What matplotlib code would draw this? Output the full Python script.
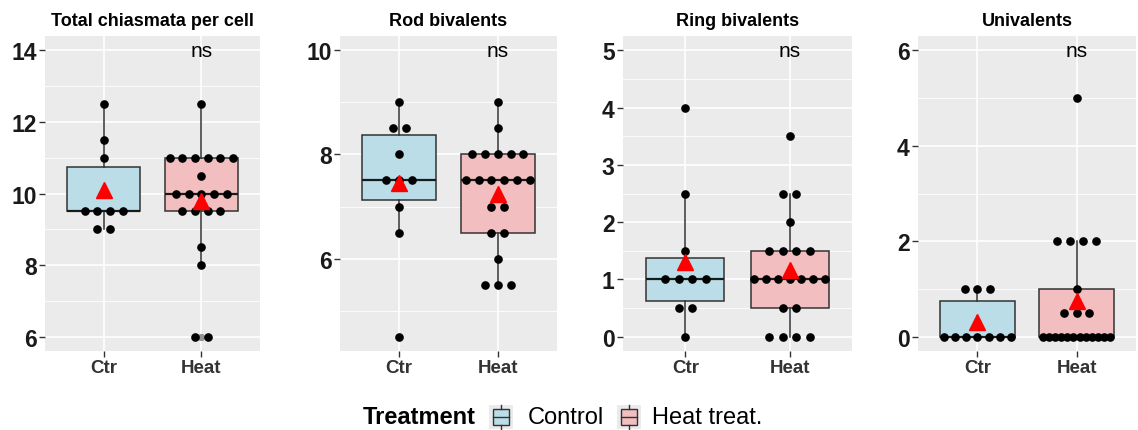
import numpy as np
import matplotlib.pyplot as plt
from matplotlib.patches import Rectangle
from matplotlib.lines import Line2D
from matplotlib.ticker import MultipleLocator

plt.rcParams['font.family'] = ['Liberation Sans', 'DejaVu Sans']

titles = ["Total chiasmata per cell", "Rod bivalents", "Ring bivalents", "Univalents"]
groups = ["Ctr", "Heat"]
legend_labels = ["Control", "Heat treat."]

chiasmata_ctr = [12.5, 11.5, 11, 10, 9.5, 9.5, 9.5, 9.5, 9, 9]
chiasmata_heat = [12.5, 11, 11, 11, 11, 11, 11, 10.5, 10, 10, 10, 10, 10,
                  9.5, 9.5, 9.5, 9.5, 8.5, 8, 6, 6]
rod_ctr = [9, 8.5, 8.5, 8, 7.5, 7.5, 7.5, 7, 6.5, 4.5]
rod_heat = [9, 8.5, 8, 8, 8, 8, 8, 7.5, 7.5, 7.5, 7.5, 7.5, 7.5,
            7, 7, 6.5, 6.5, 6, 5.5, 5.5, 5.5]
ring_ctr = [4, 2.5, 1.5, 1, 1, 1, 1, 0.5, 0.5, 0]
ring_heat = [3.5, 2.5, 2.5, 2, 1.5, 1.5, 1.5, 1.5, 1, 1, 1, 1, 1, 1, 1,
             0.5, 0.5, 0, 0, 0, 0]
uni_ctr = [1, 1, 1, 0, 0, 0, 0, 0, 0, 0]
uni_heat = [5, 2, 2, 2, 2, 1, 0.5, 0.5, 0.5, 0, 0, 0, 0, 0, 0, 0, 0, 0, 0, 0, 0]

yticks = [[6, 8, 10, 12, 14], [6, 8, 10], [0, 1, 2, 3, 4, 5], [0, 2, 4, 6]]
ns_y = [14, 10, 5, 6]
ns_label = "ns"

data = [(chiasmata_ctr, chiasmata_heat), (rod_ctr, rod_heat),
        (ring_ctr, ring_heat), (uni_ctr, uni_heat)]

fills = ["#BADDE7", "#F2BEBF"]
edge = "#333333"

W, H = 1138, 431
fig = plt.figure(figsize=(W / 100, H / 100), dpi=100)

# panel boxes in pixels: left, right
panels = [(45, 260), (340, 557), (623, 852), (918, 1136)]
top, bottom = 37, 352


def offsets(vals):
    vals = np.asarray(vals, dtype=float)
    off = np.zeros(len(vals))
    for v in np.unique(vals):
        idx = np.where(vals == v)[0]
        n = len(idx)
        if n > 1:
            step = min(0.13, 0.68 / (n - 1))
            off[idx] = (np.arange(n) - (n - 1) / 2) * step
    return off


for k, (l, r) in enumerate(panels):
    ax = fig.add_axes([l / W, (H - bottom) / H, (r - l) / W, (bottom - top) / H])
    ax.set_facecolor("#EBEBEB")
    for s in ax.spines.values():
        s.set_visible(False)

    ctr, heat = data[k]
    bp = ax.boxplot([ctr, heat], positions=[1, 2], widths=0.75, patch_artist=True,
                    showcaps=False, whis=1.5,
                    boxprops=dict(edgecolor=edge, linewidth=1.1),
                    whiskerprops=dict(color=edge, linewidth=1.1),
                    medianprops=dict(color="#1a1a1a", linewidth=1.6),
                    flierprops=dict(marker='o', markerfacecolor='grey', markeredgecolor='none',
                                    markersize=5.2, alpha=0.6),
                    zorder=2)
    for patch, c in zip(bp['boxes'], fills):
        patch.set_facecolor(c)

    for i, vals in enumerate([ctr, heat]):
        x = i + 1 + offsets(vals)
        ax.plot(x, vals, 'o', color='black', markersize=5.2, zorder=3)
        ax.plot(i + 1, np.mean(vals), '^', color='red', markersize=11.5, zorder=4)

    ax.text(2, ns_y[k], ns_label, ha='center', va='center', fontsize=15)

    lo = min(min(ctr), min(heat))
    hi = max(max(ctr), max(heat), ns_y[k])
    pad = (hi - lo) * 0.05
    ax.set_ylim(lo - pad, hi + pad)
    ax.set_xlim(0.4, 2.6)

    ax.set_yticks(yticks[k])
    ax.set_yticklabels([str(t) for t in yticks[k]], fontsize=16.5, fontweight='bold', color='#1a1a1a')
    step = yticks[k][1] - yticks[k][0]
    ax.yaxis.set_minor_locator(MultipleLocator(step / 2))
    ax.tick_params(axis='y', which='minor', length=0)
    ax.set_xticks([1, 2])
    ax.set_xticklabels(groups, fontsize=13.5, fontweight='bold', color='#333333')
    ax.tick_params(which='major', length=4, width=1, color='#333333', pad=2)

    ax.set_axisbelow(True)
    ax.grid(which='major', color='white', linewidth=1.2)
    ax.grid(which='minor', axis='y', color='white', linewidth=0.6)

    ax.set_title(titles[k], fontsize=13, fontweight='bold', pad=8)

# legend along the bottom
ly = (H - 418) / H
fig.text(363 / W, ly, "Treatment", fontsize=17, fontweight='bold', va='center', ha='left')
key_x = [489, 617]
text_x = [528, 652]
for kx, tx, c, lab in zip(key_x, text_x, fills, legend_labels):
    fig.add_artist(Rectangle((kx / W, (H - 430) / H), 24 / W, 24 / H,
                             transform=fig.transFigure, facecolor="#EBEBEB", edgecolor='none'))
    fig.add_artist(Rectangle(((kx + 4) / W, (H - 426) / H), 16 / W, 16 / H,
                             transform=fig.transFigure, facecolor=c, edgecolor=edge, linewidth=1))
    cx = (kx + 12) / W
    fig.add_artist(Line2D([cx, cx], [(H - 410) / H, (H - 406) / H], transform=fig.transFigure,
                          color=edge, linewidth=1))
    fig.add_artist(Line2D([cx, cx], [(H - 430) / H, (H - 426) / H], transform=fig.transFigure,
                          color=edge, linewidth=1))
    fig.add_artist(Line2D([(kx + 4) / W, (kx + 20) / W], [(H - 418) / H, (H - 418) / H],
                          transform=fig.transFigure, color=edge, linewidth=1))
    fig.text(tx / W, ly, lab, fontsize=17, va='center', ha='left')

fig.savefig("out.png", dpi=100)
